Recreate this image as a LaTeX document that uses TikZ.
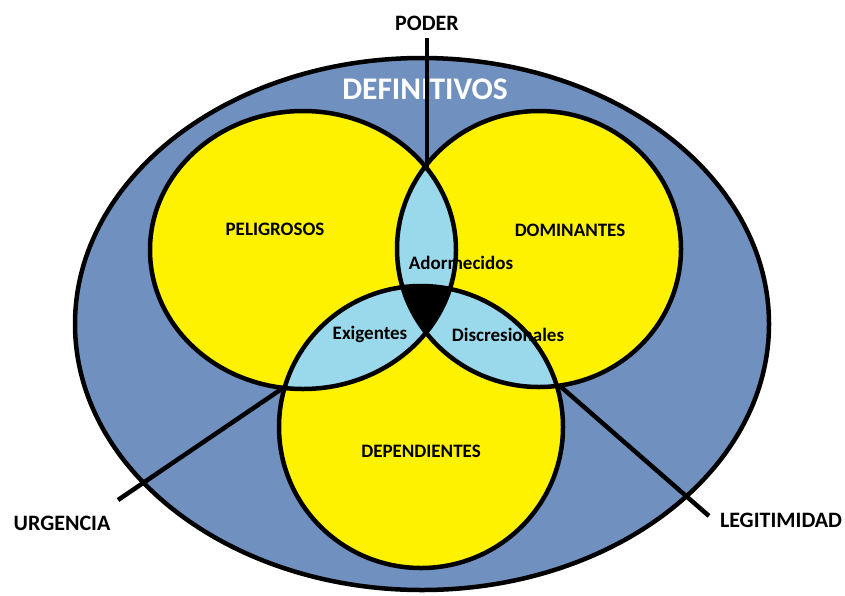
\documentclass[tikz,border=0pt]{standalone}
\usepackage{fontspec}
\setmainfont{Carlito}
\usepackage{tikz}
\usetikzlibrary{calc}
\usetikzlibrary{positioning}
\definecolor{steelblue}{rgb}{0.44, 0.57, 0.75}
\definecolor{venyellow}{rgb}{1.0, 0.95, 0.0}
\definecolor{paleblue}{rgb}{0.6, 0.85, 0.92}

\begin{document}
\begin{tikzpicture}[x=1pt,y=-1pt,line join=round,
	rim/.style={line width=4.5pt,black},
	inlbl/.style={font=\bfseries\fontsize{19}{22}\selectfont,inner sep=0pt},
	outlbl/.style={font=\bfseries\fontsize{22}{25}\selectfont,inner sep=0pt}]
	
	\useasboundingbox (0,0) rectangle (845,595);
	
	\coordinate (E0) at (422,324);
	\coordinate (C1) at (303,250);
	\coordinate (C2) at (539,249);
	\coordinate (C3) at (421,427);
	
	\coordinate (T1) at (427,170);
	\coordinate (T2) at (283,388);
	\coordinate (T3) at (560,386);
	
	\coordinate (P1) at (427,38);
	\coordinate (U1) at (118,500);
	\coordinate (L1) at (709,516);
	
	\draw [rim,fill=steelblue] (E0) ellipse (347 and 266);
	\fill [venyellow] (C1) ellipse (153 and 139) (C2) ellipse (142 and 138) (C3) ellipse (142 and 141);
	
	\begin{scope}
		\clip (C1) ellipse (153 and 139);
		\fill [paleblue] (C2) ellipse (142 and 138) (C3) ellipse (142 and 141);
		\clip (C2) ellipse (142 and 138);
		\fill [black] (C3) ellipse (142 and 141);
	\end{scope}
	\begin{scope}
		\clip (C2) ellipse (142 and 138);
		\fill [paleblue] (C3) ellipse (142 and 141);
		\clip (C1) ellipse (153 and 139);
		\fill [black] (C3) ellipse (142 and 141);
	\end{scope}
	
	\node at (425,89) [font=\bfseries\fontsize{31.5}{34}\selectfont,white,inner sep=0pt] (Def) {DEFINITIVOS};
	\node at (275,229) [inlbl] (Pel) {PELIGROSOS};
	\node at (570,230) [inlbl] (Dom) {DOMINANTES};
	\node at (461,263) [inlbl] (Ado) {Adormecidos};
	\node at (370,334) [inlbl] (Exi) {Exigentes};
	\node at (508,335) [inlbl] (Dis) {Discresionales};
	\node at (421,451) [inlbl] (Dep) {DEPENDIENTES};
	
	\draw [rim] (C1) ellipse (153 and 139) (C2) ellipse (142 and 138) (C3) ellipse (142 and 141);
	
	\draw [rim] (P1)--(T1);
	\draw [rim] (U1)--(T2);
	\draw [rim] (L1)--(T3);
	
	\node at (427,23) [outlbl] (Pod) {PODER};
	\node at (62,523) [outlbl] (Urg) {URGENCIA};
	\node at (781,520) [outlbl] (Leg) {LEGITIMIDAD};
\end{tikzpicture}
\end{document}
